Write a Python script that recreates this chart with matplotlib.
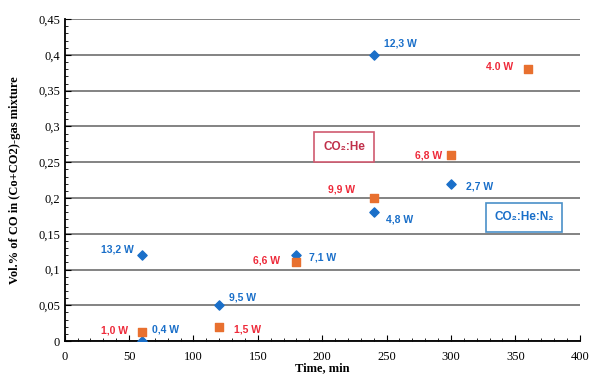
import numpy as np
import matplotlib.pyplot as plt
from matplotlib.ticker import MultipleLocator, FuncFormatter

# CO2:He:N2 (синие ромбы)
time_n2 = [60, 60, 120, 180, 240, 240, 300]
co_n2 = [0.0, 0.12, 0.05, 0.12, 0.40, 0.18, 0.22]
lab_n2 = ['0,4 W', '13,2 W', '9,5 W', '7,1 W', '12,3 W', '4,8 W', '2,7 W']

# CO2:He (оранжевые квадраты)
time_he = [60, 120, 180, 240, 300, 360]
co_he = [0.012, 0.02, 0.11, 0.20, 0.26, 0.38]
lab_he = ['1,0 W', '1,5 W', '6,6 W', '9,9 W', '6,8 W', '4.0 W']

# смещения подписей в пикселях
off_n2 = [(10, 12), (-8, 6), (10, 8), (13, -2), (10, 11), (12, -7), (15, -3)]
off_he = [(-14, 2), (15, -3), (-16, 2), (-19, 8), (-9, 0), (-15, 2)]

blue = '#1a6fc9'
red = '#ee2a3a'
orange = '#e8702f'

fig = plt.figure(figsize=(5.94, 3.76), dpi=100)
ax = fig.add_axes([0.109, 0.093, 0.867, 0.856])

ax.scatter(time_n2, co_n2, marker='D', s=22, color=blue, zorder=3)
ax.scatter(time_he, co_he, marker='s', s=36, color=orange, zorder=4)

for x, y, t, (dx, dy) in zip(time_n2, co_n2, lab_n2, off_n2):
    ha = 'left' if dx > 0 else 'right'
    ax.annotate(t, (x, y), xytext=(dx, dy), textcoords='offset pixels',
                ha=ha, va='center', color=blue, fontsize=7.5, fontweight='bold',
                family='Liberation Sans')
for x, y, t, (dx, dy) in zip(time_he, co_he, lab_he, off_he):
    ha = 'left' if dx > 0 else 'right'
    ax.annotate(t, (x, y), xytext=(dx, dy), textcoords='offset pixels',
                ha=ha, va='center', color=red, fontsize=7.5, fontweight='bold',
                family='Liberation Sans')

ax.text(217, 0.271, 'CO₂:He', color='#c0304a', fontsize=8.5, fontweight='bold',
        family=['Liberation Sans', 'DejaVu Sans'], ha='center', va='center',
        bbox=dict(boxstyle='square,pad=0.75', fc='white', ec='#d05a70', lw=1.2))
ax.text(357, 0.173, 'CO₂:He:N₂', color=blue, fontsize=8.5, fontweight='bold',
        family=['Liberation Sans', 'DejaVu Sans'], ha='center', va='center',
        bbox=dict(boxstyle='square,pad=0.7', fc='white', ec='#4a90c8', lw=1.2))

ax.set_xlim(0, 400)
ax.set_ylim(0, 0.45)
ax.xaxis.set_major_locator(MultipleLocator(50))
ax.xaxis.set_minor_locator(MultipleLocator(10))
ax.yaxis.set_major_locator(MultipleLocator(0.05))
ax.yaxis.set_minor_locator(MultipleLocator(0.01))
ax.yaxis.set_major_formatter(FuncFormatter(lambda v, p: ('%g' % round(v, 2)).replace('.', ',')))
ax.grid(axis='y', which='major', color='#7a7a7a', lw=1.3)
ax.set_axisbelow(True)
for s in ['top', 'right']:
    ax.spines[s].set_visible(False)
for s in ['left', 'bottom']:
    ax.spines[s].set_linewidth(1.3)
ax.tick_params(which='both', direction='in', labelsize=9)
ax.tick_params(which='major', length=4)
ax.tick_params(which='minor', length=2)
ax.tick_params(axis='x', pad=7)
for lbl in ax.get_xticklabels() + ax.get_yticklabels():
    lbl.set_family('Liberation Serif')

ax.set_xlabel('Time, min', family='Liberation Serif', fontweight='bold', fontsize=9)
ax.xaxis.set_label_coords(0.5, -0.066)
ax.set_ylabel('Vol.% of CO in (Co+CO2)-gas mixture', family='Liberation Serif',
              fontweight='bold', fontsize=9)
ax.yaxis.set_label_coords(-0.085, 0.5)

fig.savefig('out.png', dpi=100)
